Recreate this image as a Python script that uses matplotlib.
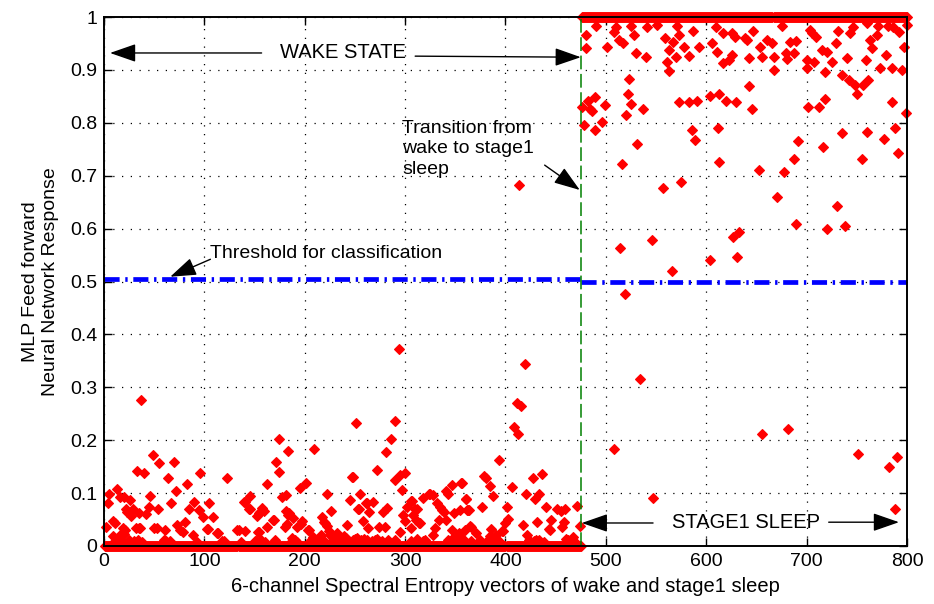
import numpy as np
import matplotlib
matplotlib.use("Agg")
import matplotlib.pyplot as plt

plt.rcParams['font.family'] = ['Liberation Sans', 'DejaVu Sans']

# ---------------- data ----------------
n_wake = 475          # samples 1..475 are wake, output ~0 unless listed
n_total = 800         # samples 476..800 are stage1 sleep, output ~1 unless listed
transition_x = 475
threshold_wake = 0.505
threshold_sleep = 0.5

wake_x = [37, 294, 251, 290, 174, 286, 183, 209, 281, 49, 55, 70, 171, 174, 272, 33, 40, 96, 123, 64,
          248, 290, 295, 300, 356, 347, 162, 201, 83, 195, 5, 13, 72, 297, 341, 343, 318, 325, 328, 16,
          20, 26, 46, 90, 145, 222, 255, 307, 361, 4, 67, 105, 140, 261, 268, 332, 335, 23, 29, 35,
          45, 54, 85, 95, 99, 109, 145, 159, 181, 226, 254, 264, 310, 339, 349, 364, 9, 11, 42, 154,
          183, 188, 217, 219, 258, 302, 308, 311, 314, 300, 330, 341, 295, 306, 263, 274, 280, 242, 169, 162,
          133, 140, 154, 61, 50, 35, 79, 104, 113, 204, 225, 232, 180, 21, 16, 2, 89, 208, 328, 347,
          354, 360, 177, 181, 139, 144, 157, 155, 152, 182, 184, 192, 196, 197, 168, 134, 153, 203, 220, 222,
          224, 216, 187, 206, 247, 245, 262, 306, 324, 278, 282, 312, 337, 355, 363, 298, 315, 334, 365, 253,
          419, 411, 415, 408, 412, 394, 379, 381, 427, 436, 406, 385, 388, 420, 433, 429, 377, 401, 440, 451,
          459, 455, 471, 362, 361, 357, 402, 400, 431, 445, 458, 417, 366, 386, 397, 398, 444, 371, 421, 467,
          474, 443, 456, 385, 391, 413, 19, 20, 9, 32, 36, 53, 73, 76, 81, 103, 114, 25, 22, 27,
          238, 241, 244, 250, 256, 259, 235, 120, 60, 170, 230, 290, 350, 375, 430, 460, 150, 190, 270, 320,
          10, 14, 18, 30, 34, 38, 62, 66, 93, 118, 136, 151, 156, 160, 187, 192, 210, 214, 218, 226,
          236, 243, 239, 248, 252, 257, 262, 267, 272, 277, 283, 306, 312, 318, 343, 348, 352, 358, 366, 383,
          389, 394, 423, 428, 433, 438, 462, 468]
wake_y = [0.276, 0.372, 0.233, 0.236, 0.202, 0.202, 0.180, 0.183, 0.178, 0.172, 0.157, 0.159, 0.159, 0.140, 0.144, 0.142, 0.138, 0.138, 0.129, 0.129,
          0.131, 0.125, 0.134, 0.138, 0.119, 0.115, 0.117, 0.119, 0.117, 0.110, 0.098, 0.108, 0.104, 0.106, 0.104, 0.098, 0.091, 0.098, 0.096, 0.093,
          0.093, 0.087, 0.095, 0.083, 0.095, 0.098, 0.098, 0.085, 0.089, 0.081, 0.081, 0.081, 0.083, 0.081, 0.083, 0.081, 0.074, 0.064, 0.070, 0.062,
          0.074, 0.070, 0.070, 0.068, 0.055, 0.055, 0.070, 0.066, 0.066, 0.066, 0.070, 0.064, 0.070, 0.064, 0.062, 0.068, 0.047, 0.043, 0.060, 0.062,
          0.059, 0.053, 0.055, 0.045, 0.047, 0.074, 0.059, 0.049, 0.043, 0.047, 0.034, 0.049, 0.026, 0.034, 0.034, 0.036, 0.036, 0.040, 0.049, 0.036,
          0.030, 0.028, 0.026, 0.030, 0.034, 0.034, 0.026, 0.032, 0.025, 0.030, 0.021, 0.025, 0.036, 0.030, 0.021, 0.036, 0.021, 0.017, 0.021, 0.030,
          0.025, 0.030, 0.093, 0.096, 0.083, 0.070, 0.072, 0.064, 0.057, 0.042, 0.062, 0.036, 0.042, 0.047, 0.049, 0.030, 0.026, 0.030, 0.043, 0.038,
          0.028, 0.021, 0.015, 0.011, 0.130, 0.087, 0.081, 0.085, 0.098, 0.064, 0.072, 0.070, 0.068, 0.068, 0.068, 0.059, 0.043, 0.049, 0.038, 0.070,
          0.344, 0.270, 0.265, 0.225, 0.212, 0.163, 0.132, 0.128, 0.128, 0.136, 0.111, 0.113, 0.094, 0.098, 0.098, 0.089, 0.074, 0.074, 0.074, 0.070,
          0.070, 0.066, 0.076, 0.068, 0.089, 0.119, 0.051, 0.043, 0.045, 0.049, 0.045, 0.040, 0.036, 0.032, 0.028, 0.028, 0.030, 0.025, 0.021, 0.017,
          0.038, 0.032, 0.036, 0.019, 0.021, 0.682, 0.034, 0.023, 0.019, 0.034, 0.034, 0.034, 0.040, 0.030, 0.045, 0.032, 0.025, 0.012, 0.070, 0.057,
          0.012, 0.015, 0.010, 0.014, 0.011, 0.013, 0.016, 0.010, 0.012, 0.011, 0.013, 0.012, 0.014, 0.012, 0.011, 0.013, 0.010, 0.011, 0.012, 0.011,
          0.008, 0.011, 0.009, 0.010, 0.012, 0.008, 0.010, 0.009, 0.008, 0.010, 0.008, 0.009, 0.012, 0.008, 0.010, 0.008, 0.011, 0.009, 0.012, 0.008,
          0.014, 0.010, 0.018, 0.012, 0.016, 0.009, 0.012, 0.010, 0.013, 0.009, 0.011, 0.010, 0.013, 0.009, 0.012, 0.015, 0.010, 0.013, 0.009, 0.011,
          0.008, 0.010, 0.012, 0.009, 0.011, 0.008, 0.012, 0.010]

sleep_x = [480, 490, 480, 501, 508, 510, 513, 517, 525, 528, 530, 540, 541, 551, 559, 563, 561, 563, 567, 570,
           571, 573, 578, 583, 587, 593, 606, 610, 611, 617, 617, 623, 626, 626, 629, 639, 641, 643, 647, 654,
           656, 661, 666, 667, 667, 675, 679, 680, 683, 687, 689, 700, 700, 703, 705, 707, 709, 715, 718, 720,
           725, 729, 731, 735, 740, 742, 743, 746, 748, 750, 756, 759, 761, 760, 765, 763, 770, 771, 773, 779,
           781, 785, 786, 792, 795, 797, 800,
           523, 522, 525, 520, 537, 482, 489, 484, 486, 476, 478, 489, 496, 499, 516, 531, 557, 575, 573, 583,
           591, 586, 589, 604, 613, 620, 630, 643, 646, 612, 613, 653, 677, 687, 691, 670, 689, 701, 712, 718,
           716, 735, 755, 760, 777, 785, 788, 791, 799, 730, 720, 738, 514, 546, 566, 604, 627, 633, 631, 519,
           534, 508, 547, 656, 681, 751, 782, 790, 788]
sleep_y = [0.966, 0.983, 0.941, 0.944, 0.972, 0.981, 0.957, 0.951, 0.983, 0.966, 0.932, 0.925, 0.982, 0.985, 0.960, 0.938, 0.915, 0.898, 0.953, 0.925,
           0.983, 0.966, 0.944, 0.926, 0.974, 0.944, 0.951, 0.981, 0.934, 0.913, 0.969, 0.919, 0.928, 0.969, 0.962, 0.960, 0.957, 0.922, 0.974, 0.944,
           0.925, 0.957, 0.951, 0.925, 0.900, 0.983, 0.932, 0.920, 0.953, 0.932, 0.955, 0.919, 0.904, 0.975, 0.969, 0.915, 0.962, 0.938, 0.896, 0.934,
           0.915, 0.951, 0.974, 0.890, 0.922, 0.881, 0.969, 0.981, 0.871, 0.854, 0.871, 0.919, 0.881, 0.988, 0.941, 0.957, 0.966, 0.983, 0.904, 0.928,
           0.983, 0.904, 0.981, 0.972, 0.900, 0.944, 0.985,
           0.883, 0.854, 0.836, 0.815, 0.826, 0.842, 0.848, 0.826, 0.823, 0.830, 0.796, 0.787, 0.802, 0.833, 0.722, 0.760, 0.676, 0.689, 0.839, 0.839,
           0.842, 0.787, 0.768, 0.851, 0.854, 0.842, 0.839, 0.870, 0.826, 0.790, 0.725, 0.710, 0.707, 0.731, 0.765, 0.660, 0.609, 0.830, 0.830, 0.845,
           0.754, 0.780, 0.731, 0.783, 0.769, 0.839, 0.790, 0.743, 0.819, 0.643, 0.599, 0.605, 0.563, 0.578, 0.520, 0.541, 0.584, 0.594, 0.547, 0.476,
           0.316, 0.184, 0.090, 0.212, 0.221, 0.174, 0.150, 0.168, 0.070]

x_ticks = [0, 100, 200, 300, 400, 500, 600, 700, 800]
y_ticks = [0, 0.1, 0.2, 0.3, 0.4, 0.5, 0.6, 0.7, 0.8, 0.9, 1]
y_tick_labels = ['0', '0.1', '0.2', '0.3', '0.4', '0.5', '0.6', '0.7', '0.8', '0.9', '1']

# ---------------- figure ----------------
W, H = 934, 604
fig = plt.figure(figsize=(W / 100, H / 100), dpi=100)
ax = fig.add_axes([104 / W, 1 - 546 / H, (907 - 104) / W, (546 - 17) / H])

red = '#ff0000'
mk = dict(marker='D', markersize=4.6, color=red, markeredgecolor=red, markeredgewidth=0.8,
          linestyle='none', clip_on=False, zorder=3)

# saturated outputs
wake_idx = np.arange(1, n_wake + 1)
sleep_idx = np.arange(n_wake + 1, n_total + 1)
ax.plot(wake_idx, np.zeros(len(wake_idx)), **mk)
ax.plot(sleep_idx, np.ones(len(sleep_idx)), **mk)
# non-saturated outputs
ax.plot(wake_x, wake_y, **mk)
ax.plot(sleep_x, sleep_y, **mk)

# threshold line
thr_style = dict(color='#0000ff', linewidth=3.4, linestyle=(0, (3.2, 1.2, 0.5, 1.2)), zorder=4)
ax.plot([0, transition_x], [threshold_wake, threshold_wake], **thr_style)
ax.plot([transition_x, n_total], [threshold_sleep, threshold_sleep], **thr_style)

# transition line
ax.plot([transition_x, transition_x], [0, 1], color='#008000', linewidth=1.1,
        linestyle=(0, (9, 3)), zorder=4)

ax.set_xlim(0, 800)
ax.set_ylim(0, 1)
ax.set_xticks(x_ticks)
ax.set_yticks(y_ticks)
ax.set_yticklabels(y_tick_labels)
ax.tick_params(direction='in', length=6, width=1.0, top=True, right=True,
               labelsize=14, colors='black', pad=5)
ax.grid(True, color='black', linewidth=0.9, linestyle=(0, (1, 6)))
ax.set_axisbelow(True)
for s in ax.spines.values():
    s.set_linewidth(1.4)
    s.set_zorder(5)

ax.set_xlabel('6-channel Spectral Entropy vectors of wake and stage1 sleep', fontsize=14.5, labelpad=5)
ax.set_ylabel('MLP Feed forward\nNeural Network Response', fontsize=14, labelpad=8)

# annotations
arr = dict(arrowstyle='-|>,head_length=1.15,head_width=0.4', color='black', lw=1.0,
           shrinkA=0, shrinkB=0, mutation_scale=14)
fs = 14.5
ax.text(238, 0.932, 'WAKE STATE', ha='center', va='center', fontsize=fs)
ax.annotate('', xy=(6, 0.932), xytext=(157, 0.932), arrowprops=arr)
ax.annotate('', xy=(475, 0.924), xytext=(310, 0.926), arrowprops=arr)

ax.text(297, 0.805, 'Transition from\nwake to stage1\nsleep', ha='left', va='top', fontsize=14,
        linespacing=1.25)
ax.annotate('', xy=(474, 0.673), xytext=(439, 0.720), arrowprops=arr)

ax.text(106, 0.552, 'Threshold for classification', ha='left', va='center', fontsize=14)
ax.annotate('', xy=(66, 0.509), xytext=(106, 0.542), arrowprops=arr)

ax.text(640, 0.0435, 'STAGE1 SLEEP', ha='center', va='center', fontsize=fs)
ax.annotate('', xy=(476, 0.0435), xytext=(547, 0.0435), arrowprops=arr)
ax.annotate('', xy=(792, 0.045), xytext=(722, 0.045), arrowprops=arr)

fig.savefig('out.png', dpi=100, facecolor='white')
